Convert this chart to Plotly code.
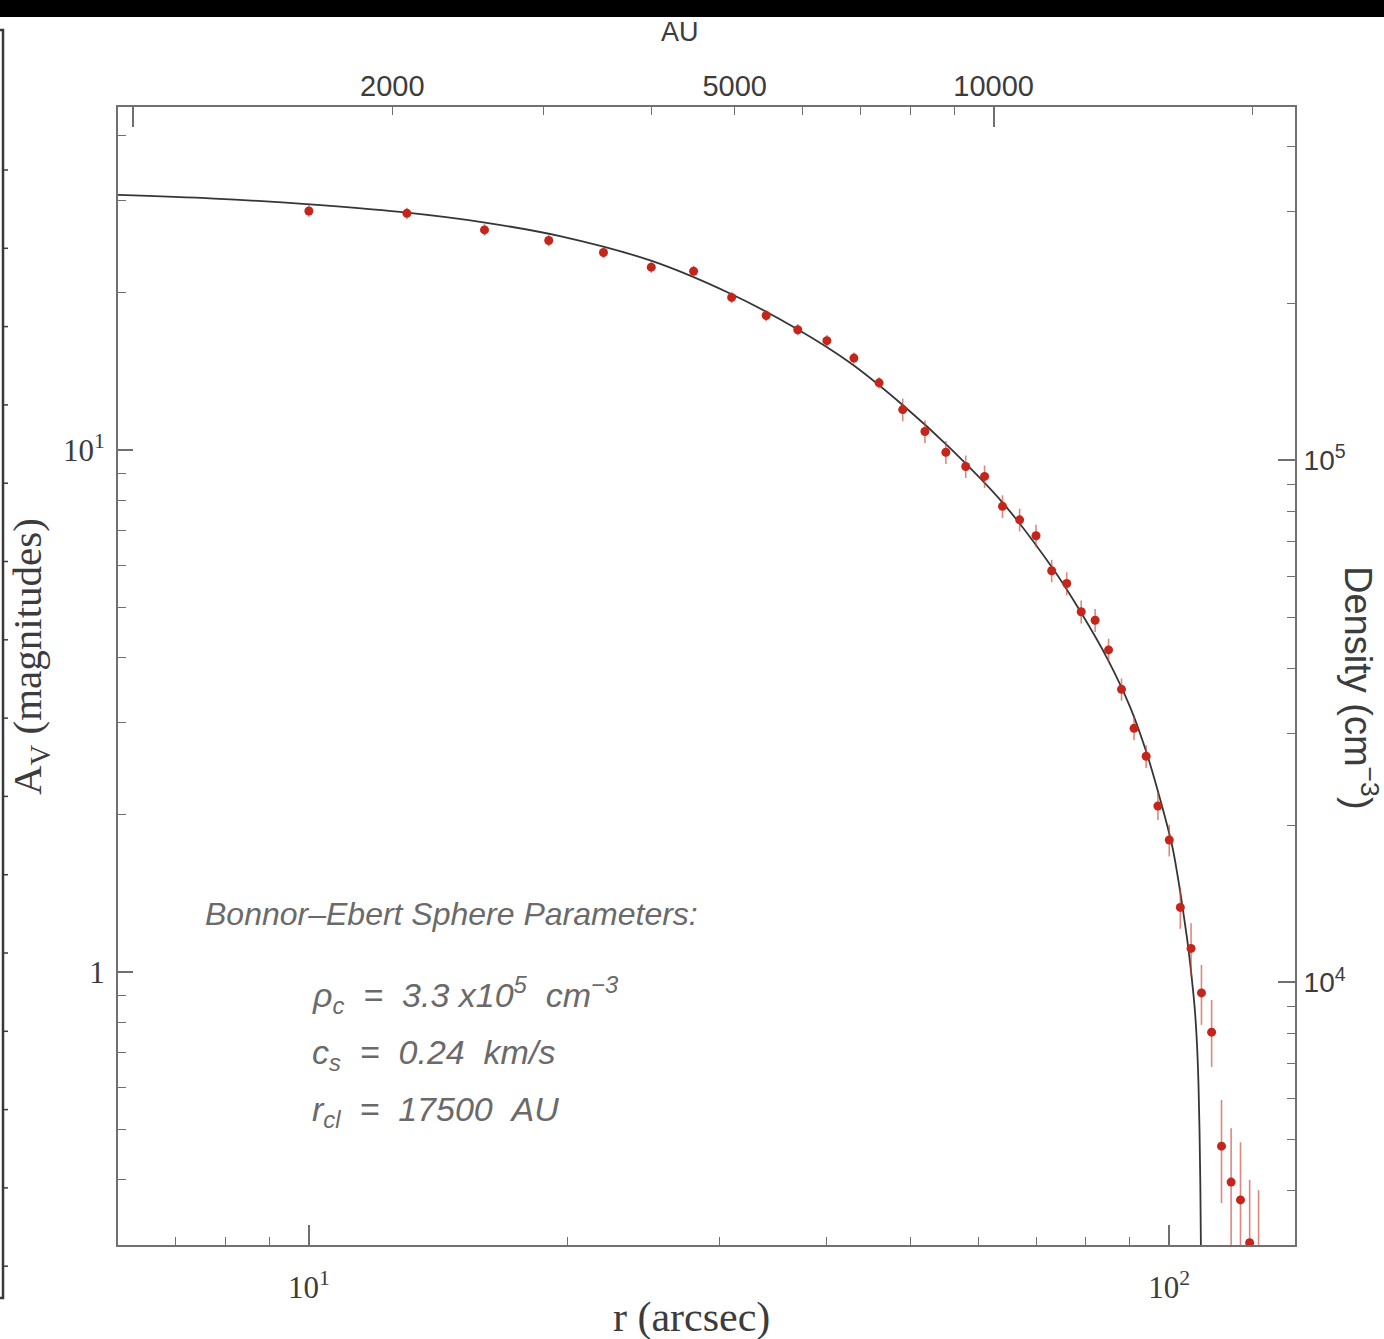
import math
import plotly.graph_objects as go

# ---------------- data ----------------
r_arcsec = [10, 13, 16, 19, 22, 25, 28, 31, 34, 37, 40, 43, 46, 49, 52, 55, 58, 61, 64, 67,
            70, 73, 76, 79, 82, 85, 88, 91, 94, 97, 100, 103, 106, 109, 112, 115, 118, 121, 124, 127]
av_obs = [28.7, 28.4, 26.4, 25.2, 23.9, 22.4, 22.0, 19.6, 18.1, 17.0, 16.2, 15.0, 13.45, 11.95,
          10.85, 9.9, 9.3, 8.9, 7.8, 7.35, 6.85, 5.87, 5.55, 4.9, 4.72, 4.14, 3.48, 2.93, 2.59,
          2.08, 1.79, 1.33, 1.11, 0.912, 0.767, 0.464, 0.396, 0.366, 0.303, 0.25]
av_err_up = [0.72, 0.71, 0.66, 0.63, 0.6, 0.56, 0.55, 0.49, 0.45, 0.42, 0.41, 0.37, 0.34, 0.6,
             0.54, 0.5, 0.46, 0.44, 0.39, 0.37, 0.34, 0.29, 0.28, 0.25, 0.24, 0.21, 0.17, 0.15,
             0.13, 0.125, 0.125, 0.12, 0.13, 0.12, 0.117, 0.105, 0.106, 0.106, 0.097, 0.132]
av_err_down = [0.72, 0.71, 0.66, 0.63, 0.6, 0.56, 0.55, 0.49, 0.45, 0.42, 0.41, 0.37, 0.34, 0.6,
               0.54, 0.5, 0.46, 0.44, 0.39, 0.37, 0.34, 0.29, 0.28, 0.25, 0.24, 0.21, 0.17, 0.15,
               0.13, 0.125, 0.125, 0.12, 0.13, 0.12, 0.109, 0.103, 0.2, 0.2, 0.2, 0.1]

# Bonnor-Ebert model curve
model_r = [6.00, 7.76, 10.03, 12.76, 16.02, 19.58, 24.98, 30.87, 36.93, 42.56, 49.03, 55.62,
           64.09, 73.06, 78.74, 84.87, 90.06, 93.97, 97.55, 100.73, 102.36, 103.74, 104.86,
           105.70, 106.56, 107.13, 107.71, 108.14, 108.43, 108.67, 108.87]
model_av = [30.81, 30.32, 29.55, 28.58, 27.27, 25.69, 23.05, 19.94, 17.05, 14.69, 12.18, 10.08,
            7.91, 5.96, 4.92, 3.963, 3.217, 2.650, 2.148, 1.751, 1.514, 1.3146, 1.1620, 1.0451,
            0.9236, 0.8384, 0.7247, 0.6074, 0.4981, 0.3907, 0.2807]

AU_PER_ARCSEC = 160.0
LOG_DENSITY_PER_AV = 4.02

x_range = [6.0, 140.0]
y_range = [0.3, 45.4]

x_major = [10, 100]
x_major_text = ["10<sup>1</sup>", "10<sup>2</sup>"]
x_minor = [7, 8, 9, 20, 30, 40, 50, 60, 70, 80, 90]

y_major = [1, 10]
y_major_text = ["1", "10<sup>1</sup>"]
y_minor = [0.4, 0.5, 0.6, 0.7, 0.8, 0.9, 2, 3, 4, 5, 6, 7, 8, 9, 20, 30, 40]

au_labels = [2000, 5000, 10000]
au_major = [1000, 10000]
au_minor = [2000, 3000, 4000, 5000, 6000, 7000, 8000, 9000, 20000]

dens_major = [1e4, 1e5]
dens_major_text = ["10<sup>4</sup>", "10<sup>5</sup>"]
dens_minor = [4000, 5000, 6000, 7000, 8000, 9000, 2e4, 3e4, 4e4, 5e4, 6e4, 7e4, 8e4, 9e4,
              2e5, 3e5, 4e5]

# ---------------- layout geometry ----------------
W, H = 1384, 1339
L, R, T, B = 118, 89, 107, 94
PW, PH = W - L - R, H - T - B


def px(x):
    return (x - L) / PW


def py(y):
    return (H - B - y) / PH


AXC = "#707070"
TXT = "#3c3c3c"
SERIF = "Liberation Serif"
SANS = "Liberation Sans"
NB = "\u00a0"

fig = go.Figure()

fig.add_trace(go.Scatter(
    x=model_r, y=model_av, mode="lines",
    line=dict(color="#363636", width=1.8, shape="spline", smoothing=1.0),
    hoverinfo="skip", showlegend=False))

fig.add_trace(go.Scatter(
    x=r_arcsec, y=av_obs, mode="markers",
    marker=dict(color="#c4261c", size=9, line=dict(width=0)),
    error_y=dict(type="data", symmetric=False, array=av_err_up, arrayminus=av_err_down,
                 color="rgba(205,70,55,0.65)", thickness=1.6, width=0),
    showlegend=False))

# invisible anchors so the secondary axes are drawn
fig.add_trace(go.Scatter(x=[1000], y=[1], xaxis="x2", yaxis="y",
                         mode="markers", marker=dict(opacity=0), hoverinfo="skip", showlegend=False))
fig.add_trace(go.Scatter(x=[1000], y=[1], xaxis="x3", yaxis="y",
                         mode="markers", marker=dict(opacity=0), hoverinfo="skip", showlegend=False))
fig.add_trace(go.Scatter(x=[10], y=[10 ** LOG_DENSITY_PER_AV], xaxis="x", yaxis="y2",
                         mode="markers", marker=dict(opacity=0), hoverinfo="skip", showlegend=False))

lx = [math.log10(v) for v in x_range]
ly = [math.log10(v) for v in y_range]

common = dict(showgrid=False, zeroline=False, ticks="inside", tickcolor=AXC, tickwidth=1.6)

fig.update_layout(
    width=W, height=H,
    margin=dict(l=L, r=R, t=T, b=B, autoexpand=False),
    paper_bgcolor="white", plot_bgcolor="white",
    showlegend=False,
    xaxis=dict(type="log", range=lx, tickmode="array", tickvals=x_major, ticktext=x_major_text,
               ticklen=20, showline=True, linecolor=AXC, linewidth=2,
               tickfont=dict(family=SERIF, size=31, color=TXT), ticklabelstandoff=14,
               minor=dict(tickmode="array", tickvals=x_minor, ticks="inside", ticklen=8,
                          tickcolor=AXC, tickwidth=1.4), **common),
    yaxis=dict(type="log", range=ly, tickmode="array", tickvals=y_major, ticktext=y_major_text,
               ticklen=15, showline=True, linecolor=AXC, linewidth=2,
               tickfont=dict(family=SERIF, size=31, color=TXT), ticklabelstandoff=5,
               minor=dict(tickmode="array", tickvals=y_minor, ticks="inside", ticklen=8,
                          tickcolor=AXC, tickwidth=1.4), **common),
    xaxis2=dict(type="log", overlaying="x", side="top", anchor="y",
                range=[math.log10(v * AU_PER_ARCSEC) for v in x_range],
                tickmode="array", tickvals=au_labels, ticktext=[str(v) for v in au_labels],
                ticklen=0, showline=True, linecolor=AXC, linewidth=2,
                tickfont=dict(family=SANS, size=29, color=TXT), ticklabelstandoff=-3,
                minor=dict(tickmode="array", tickvals=au_minor, ticks="inside", ticklen=8,
                           tickcolor=AXC, tickwidth=1.4),
                showgrid=False, zeroline=False, ticks="inside", tickcolor=AXC, tickwidth=1.6),
    xaxis3=dict(type="log", overlaying="x", side="top", anchor="y",
                range=[math.log10(v * AU_PER_ARCSEC) for v in x_range],
                tickmode="array", tickvals=au_major, showticklabels=False,
                ticklen=20, showline=False, **common),
    yaxis2=dict(type="log", overlaying="y", side="right", anchor="x",
                range=[v + LOG_DENSITY_PER_AV for v in ly],
                tickmode="array", tickvals=dens_major, ticktext=dens_major_text,
                ticklen=17, showline=True, linecolor=AXC, linewidth=2,
                tickfont=dict(family=SANS, size=28, color=TXT), ticklabelstandoff=1,
                minor=dict(tickmode="array", tickvals=dens_minor, ticks="inside", ticklen=8,
                           tickcolor=AXC, tickwidth=1.4), **common),
)

ann = []
ann.append(dict(text="AU", x=px(680), y=py(32), xref="paper", yref="paper", showarrow=False,
                font=dict(family=SANS, size=27, color=TXT), xanchor="center", yanchor="middle"))
ann.append(dict(text="r (arcsec)", x=px(691), y=py(1317), xref="paper", yref="paper",
                showarrow=False, font=dict(family=SERIF, size=42, color=TXT),
                xanchor="center", yanchor="middle"))
ann.append(dict(text="A<sub>V</sub> (magnitudes)", x=px(30), y=py(657), xref="paper",
                yref="paper", showarrow=False, textangle=-90,
                font=dict(family=SERIF, size=41, color=TXT), xanchor="center", yanchor="middle"))
ann.append(dict(text="Density (cm<sup>−3</sup>)", x=px(1361), y=py(688), xref="paper",
                yref="paper", showarrow=False, textangle=90,
                font=dict(family=SANS, size=38, color=TXT), xanchor="center", yanchor="middle"))

BE_TITLE = dict(family=SANS, size=32, color="#6a6a6a")
BE_FONT = dict(family=SANS, size=34, color="#6a6a6a")
ann.append(dict(text="<i>Bonnor–Ebert Sphere Parameters:</i>", x=px(203), y=py(914),
                xref="paper", yref="paper", showarrow=False, font=BE_TITLE,
                xanchor="left", yanchor="middle"))
ann.append(dict(text=f"<i>ρ<sub>c</sub>{NB}{NB}={NB}{NB}3.3{NB}x10<sup>5</sup>{NB}{NB}cm<sup>−3</sup></i>",
                x=px(310), y=py(995), xref="paper", yref="paper", showarrow=False, font=BE_FONT,
                xanchor="left", yanchor="middle"))
ann.append(dict(text=f"<i>c<sub>s</sub>{NB}{NB}={NB}{NB}0.24{NB}{NB}km/s</i>", x=px(310), y=py(1054),
                xref="paper", yref="paper", showarrow=False, font=BE_FONT,
                xanchor="left", yanchor="middle"))
ann.append(dict(text=f"<i>r<sub>cl</sub>{NB}{NB}={NB}{NB}17500{NB}{NB}AU</i>", x=px(310), y=py(1111),
                xref="paper", yref="paper", showarrow=False, font=BE_FONT,
                xanchor="left", yanchor="middle"))
fig.update_layout(annotations=ann)

# decorative frame remnants at the image edges
shapes = [
    dict(type="rect", xref="paper", yref="paper", x0=px(-5), x1=px(W + 5), y0=py(17), y1=py(-5),
         fillcolor="black", line=dict(width=0), layer="above"),
    dict(type="path", xref="paper", yref="paper",
         path=f"M {px(-2)},{py(30)} L {px(3)},{py(30)} L {px(3)},{py(1298)} L {px(-2)},{py(1298)}",
         line=dict(color="#3a3a3a", width=2.5)),
]
for k in range(15):
    yy = 170 + k * 78.3
    shapes.append(dict(type="line", xref="paper", yref="paper", x0=px(3), x1=px(8),
                       y0=py(yy), y1=py(yy), line=dict(color="#3a3a3a", width=1.5)))
fig.update_layout(shapes=shapes)

fig.write_html(
    "out.html",
    config={"displayModeBar": False},
    post_script="document.body.style.margin='0px';document.body.style.padding='0px';"
                "document.body.style.overflow='hidden';",
)
